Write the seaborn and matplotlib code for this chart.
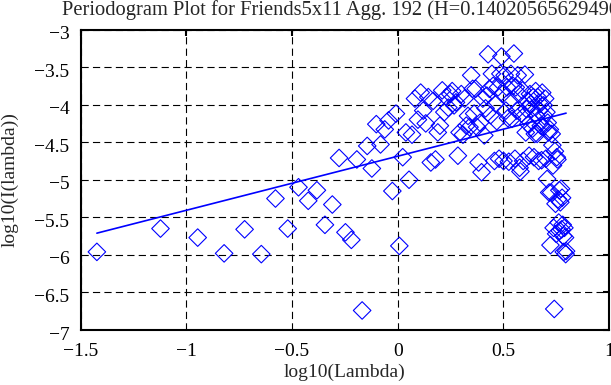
import matplotlib
matplotlib.use("Agg")
import matplotlib.pyplot as plt
import matplotlib.transforms as mtransforms
import seaborn as sns
import pandas as pd

title = "Periodogram Plot for Friends5x11 Agg. 192 (H=0.140205656294904)"
hurst = 0.140205656294904
fit_intercept = -4.687

# log10 of the Fourier frequencies (one point per frequency)
log_lambda = [
    -1.423, -1.122, -0.946, -0.821, -0.724, -0.645, -0.578, -0.520, -0.469, -0.423,
    -0.382, -0.344, -0.309, -0.277, -0.247, -0.219, -0.193, -0.168, -0.144, -0.122,
    -0.101, -0.081, -0.061, -0.043, -0.025, -0.008, 0.008, 0.024, 0.039, 0.054,
    0.068, 0.082, 0.096, 0.109, 0.121, 0.133, 0.145, 0.157, 0.168, 0.179,
    0.190, 0.200, 0.211, 0.221, 0.230, 0.240, 0.249, 0.258, 0.267, 0.276,
    0.285, 0.293, 0.301, 0.309, 0.317, 0.325, 0.333, 0.340, 0.348, 0.355,
    0.362, 0.369, 0.376, 0.383, 0.390, 0.397, 0.403, 0.410, 0.416, 0.422,
    0.428, 0.434, 0.440, 0.446, 0.452, 0.458, 0.464, 0.469, 0.475, 0.480,
    0.486, 0.491, 0.496, 0.501, 0.506, 0.512, 0.517, 0.522, 0.526, 0.531,
    0.536, 0.541, 0.546, 0.550, 0.555, 0.559, 0.564, 0.568, 0.573, 0.577,
    0.581, 0.586, 0.590, 0.594, 0.598, 0.602, 0.606, 0.610, 0.614, 0.618,
    0.622, 0.626, 0.630, 0.634, 0.638, 0.642, 0.645, 0.649, 0.653, 0.656,
    0.660, 0.663, 0.667, 0.670, 0.674, 0.677, 0.681, 0.684, 0.688, 0.691,
    0.694, 0.698, 0.701, 0.704, 0.707, 0.710, 0.714, 0.717, 0.720, 0.723,
    0.726, 0.729, 0.732, 0.735, 0.738, 0.741, 0.744, 0.747, 0.750, 0.753,
    0.756, 0.759, 0.762, 0.765, 0.767, 0.770, 0.773, 0.776, 0.778, 0.781,
    0.784, 0.786, 0.789, 0.792, 0.795, 0.797,
]

# log10 of the periodogram values
log_i = [
    -5.96, -5.65, -5.77, -5.98, -5.66, -5.99, -5.25, -5.65, -5.10, -5.28,
    -5.14, -5.60, -5.33, -4.71, -5.70, -5.80, -4.73, -6.74, -4.55, -4.85,
    -4.26, -4.53, -4.33, -4.21, -5.15, -4.12, -5.88, -4.70, -4.37, -5.00,
    -4.40, -3.92, -4.20, -3.84, -4.08, -4.25, -3.90, -4.77, -3.95, -4.73,
    -4.37, -4.28, -3.81, -4.10, -3.90, -4.04, -3.86, -3.82, -4.01, -3.97,
    -4.68, -4.37, -3.86, -4.40, -3.92, -4.28, -4.15, -4.30, -3.61, -3.79,
    -4.12, -3.79, -4.30, -4.77, -4.24, -4.90, -3.92, -4.41, -4.05, -3.88,
    -3.33, -3.79, -4.14, -3.59, -3.75, -4.75, -3.99, -4.22, -3.77, -4.72,
    -3.59, -3.36, -3.86, -4.75, -3.61, -4.08, -3.77, -4.18, -4.76, -3.95,
    -3.59, -4.19, -3.75, -3.32, -4.72, -3.77, -4.08, -3.61, -3.86, -4.84,
    -4.89, -4.12, -3.81, -4.75, -4.15, -3.60, -4.37, -4.06, -3.95, -4.26,
    -4.68, -3.86, -3.99, -4.06, -4.32, -3.90, -4.70, -4.39, -3.82, -4.15,
    -4.39, -3.90, -4.75, -4.08, -3.99, -4.28, -4.74, -3.84, -4.30, -4.01,
    -4.15, -3.92, -4.72, -4.10, -4.99, -4.24, -4.37, -5.17, -4.33, -5.87,
    -5.17, -4.39, -4.54, -4.81, -5.64, -6.72, -4.62, -5.32, -5.72, -4.70,
    -4.73, -5.26, -5.57, -5.14, -5.68, -5.30, -5.12, -5.66, -5.24, -5.60,
    -5.75, -5.96, -5.64, -5.77, -5.99, -5.95,
]

x_ticks = [-1.5, -1, -0.5, 0, 0.5, 1]
y_ticks = [-7, -6.5, -6, -5.5, -5, -4.5, -4, -3.5, -3]

sns.set_theme(style="white")
plt.rcParams['font.family'] = ['Liberation Serif', 'DejaVu Serif']
fs = 14

fig = plt.figure(figsize=(6.11, 3.85), dpi=100)
ax = fig.add_axes([80.6 / 611, 1 - 330 / 385, (609 - 80.6) / 611, (330 - 29.5) / 385])

df = pd.DataFrame({'x': log_lambda, 'y': log_i})
sns.scatterplot(data=df, x='x', y='y', marker='D', s=80, facecolor='none',
                edgecolor='#0000ff', linewidth=0.8, ax=ax, zorder=3)

# least squares line: slope = 1 - 2H
slope = 1 - 2 * hurst
fit = pd.DataFrame({'x': [min(log_lambda), max(log_lambda)]})
fit['y'] = fit_intercept + slope * fit['x']
sns.lineplot(data=fit, x='x', y='y', color='#0000ff', linewidth=1.2, ax=ax, zorder=4)

ax.set_xlim(-1.5, 1)
ax.set_ylim(-7, -3)
ax.set_xticks(x_ticks)
ax.set_yticks(y_ticks)
ax.set_xticklabels(['\u22121.5', '\u22121', '\u22120.5', '0', '0.5', '1'])
ax.set_yticklabels(['\u22127', '\u22126.5', '\u22126', '\u22125.5', '\u22125',
                    '\u22124.5', '\u22124', '\u22123.5', '\u22123'])
ax.grid(True, color='black', linewidth=0.8, linestyle=(0, (6.5, 3.8)))
ax.tick_params(direction='in', length=4.5, width=1.5, top=True, right=True,
               labelsize=fs, colors='black')
ax.tick_params(axis='x', pad=9)
ax.tick_params(axis='y', pad=8)
# gnuplot puts the y labels slightly below the tick
shift = mtransforms.ScaledTranslation(0, -3 / 100, fig.dpi_scale_trans)
for lab in ax.get_yticklabels():
    lab.set_transform(lab.get_transform() + shift)
for sp in ax.spines.values():
    sp.set_color('black')
    sp.set_linewidth(1.5)
ax.set_xlabel('')
ax.set_ylabel('')

fig.text(345 / 611, 1 - 372 / 385, 'log10(Lambda)', ha='center', va='center', fontsize=fs)
fig.text(10 / 611, 1 - 180 / 385, 'log10(I(lambda))', ha='center', va='center',
         rotation=90, fontsize=fs)
fig.text(62 / 611, 1 - 10.5 / 385, title, ha='left', va='center', fontsize=14.8)

fig.savefig('out.png', dpi=100)
